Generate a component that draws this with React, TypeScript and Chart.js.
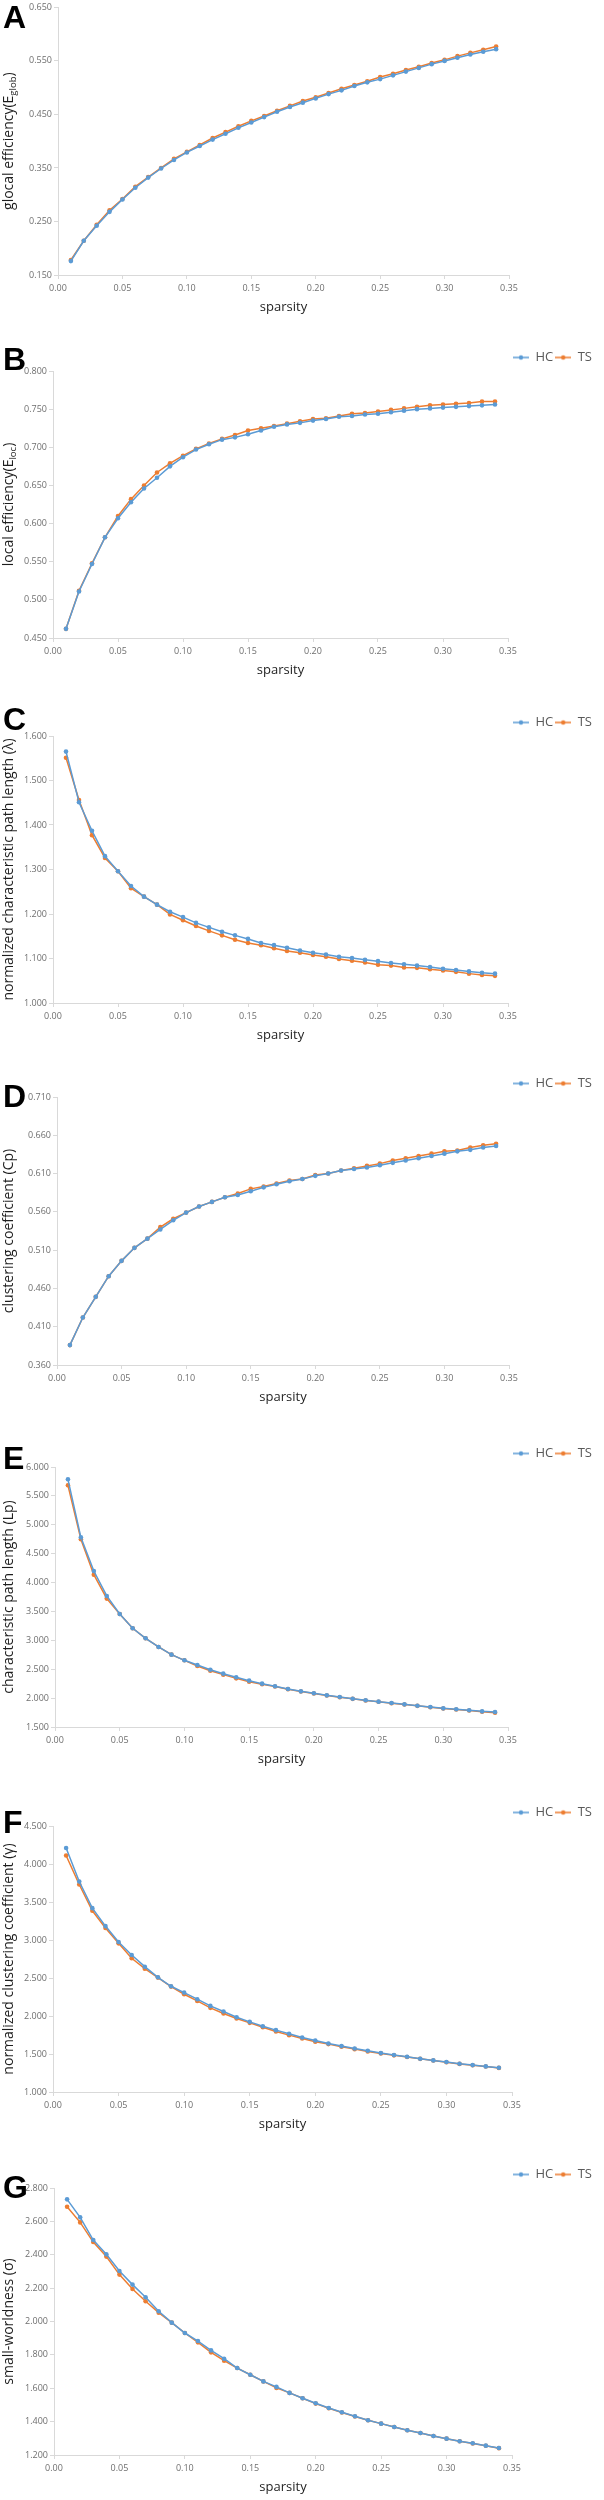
import React, { useEffect, useRef } from "react";
import { Chart, registerables } from "chart.js";

Chart.register(...registerables);

// ---------------- data ----------------
const sparsity = [
  0.01, 0.02, 0.03, 0.04, 0.05, 0.06, 0.07, 0.08, 0.09, 0.1, 0.11, 0.12,
  0.13, 0.14, 0.15, 0.16, 0.17, 0.18, 0.19, 0.2, 0.21, 0.22, 0.23, 0.24,
  0.25, 0.26, 0.27, 0.28, 0.29, 0.3, 0.31, 0.32, 0.33, 0.34,
];

const seriesNames = ["HC", "TS"];
const xTicks = { min: 0, max: 0.35, step: 0.05 };

// A: global efficiency
const globHC = [
  0.176, 0.214, 0.242, 0.268, 0.291, 0.313, 0.332, 0.349, 0.365, 0.379,
  0.391, 0.403, 0.414, 0.425, 0.435, 0.445, 0.455, 0.464, 0.472, 0.48,
  0.488, 0.495, 0.503, 0.51, 0.516, 0.523, 0.53, 0.537, 0.544, 0.55, 0.556,
  0.562, 0.567, 0.572,
];
const globTS = [
  0.178, 0.214, 0.244, 0.271, 0.292, 0.315, 0.333, 0.35, 0.367, 0.38, 0.393,
  0.406, 0.417, 0.428, 0.438, 0.447, 0.457, 0.466, 0.475, 0.482, 0.49,
  0.498, 0.505, 0.512, 0.52, 0.526, 0.533, 0.539, 0.546, 0.552, 0.559,
  0.565, 0.571, 0.577,
];
const globTicks = { min: 0.15, max: 0.65, step: 0.1 };

// B: local efficiency
const locHC = [
  0.462, 0.511, 0.547, 0.582, 0.607, 0.628, 0.646, 0.66, 0.675, 0.687,
  0.697, 0.704, 0.71, 0.713, 0.717, 0.722, 0.727, 0.73, 0.732, 0.735, 0.737,
  0.74, 0.741, 0.743, 0.744, 0.746, 0.748, 0.75, 0.751, 0.752, 0.753, 0.754,
  0.755, 0.756,
];
const locTS = [
  0.462, 0.512, 0.548, 0.582, 0.61, 0.632, 0.65, 0.667, 0.679, 0.689, 0.698,
  0.705, 0.711, 0.716, 0.722, 0.725, 0.728, 0.731, 0.734, 0.737, 0.738,
  0.741, 0.744, 0.745, 0.747, 0.749, 0.751, 0.753, 0.755, 0.756, 0.757,
  0.758, 0.76, 0.76,
];
const locTicks = { min: 0.45, max: 0.8, step: 0.05 };

// C: normalized characteristic path length
const lambdaHC = [
  1.565, 1.451, 1.387, 1.33, 1.296, 1.263, 1.239, 1.221, 1.205, 1.193,
  1.18, 1.17, 1.16, 1.152, 1.144, 1.135, 1.13, 1.124, 1.118, 1.113, 1.109,
  1.104, 1.101, 1.097, 1.094, 1.09, 1.087, 1.084, 1.081, 1.077, 1.074,
  1.071, 1.068, 1.066,
];
const lambdaTS = [
  1.551, 1.456, 1.377, 1.326, 1.296, 1.258, 1.239, 1.221, 1.199, 1.186,
  1.173, 1.162, 1.152, 1.142, 1.135, 1.13, 1.123, 1.117, 1.113, 1.108,
  1.104, 1.099, 1.095, 1.091, 1.086, 1.084, 1.08, 1.079, 1.076, 1.073, 1.07,
  1.066, 1.063, 1.061,
];
const lambdaTicks = { min: 1.0, max: 1.6, step: 0.1 };

// D: clustering coefficient
const cpHC = [
  0.386, 0.422, 0.449, 0.476, 0.496, 0.513, 0.525, 0.537, 0.549, 0.559,
  0.567, 0.573, 0.579, 0.582, 0.587, 0.592, 0.596, 0.6, 0.603, 0.607, 0.61,
  0.614, 0.616, 0.618, 0.621, 0.624, 0.627, 0.63, 0.633, 0.636, 0.639,
  0.641, 0.644, 0.646,
];
const cpTS = [
  0.386, 0.422, 0.449, 0.476, 0.496, 0.513, 0.525, 0.54, 0.551, 0.559,
  0.567, 0.573, 0.579, 0.584, 0.59, 0.593, 0.597, 0.601, 0.603, 0.608, 0.61,
  0.614, 0.617, 0.62, 0.623, 0.627, 0.63, 0.633, 0.636, 0.639, 0.64, 0.644,
  0.647, 0.649,
];
const cpTicks = { min: 0.36, max: 0.71, step: 0.05 };

// E: characteristic path length
const lpHC = [
  5.787, 4.783, 4.2, 3.768, 3.456, 3.208, 3.035, 2.885, 2.752, 2.654, 2.573,
  2.492, 2.423, 2.36, 2.302, 2.25, 2.204, 2.158, 2.117, 2.083, 2.048, 2.019,
  1.99, 1.962, 1.939, 1.915, 1.892, 1.869, 1.846, 1.823, 1.806, 1.789,
  1.771, 1.76,
];
const lpTS = [
  5.683, 4.749, 4.137, 3.722, 3.456, 3.208, 3.035, 2.885, 2.752, 2.654,
  2.556, 2.475, 2.406, 2.342, 2.285, 2.239, 2.2, 2.155, 2.114, 2.08, 2.045,
  2.016, 1.987, 1.959, 1.936, 1.912, 1.889, 1.866, 1.843, 1.82, 1.803,
  1.786, 1.765, 1.748,
];
const lpTicks = { min: 1.5, max: 6.0, step: 0.5 };

// F: normalized clustering coefficient
const gammaHC = [
  4.211, 3.769, 3.419, 3.183, 2.973, 2.803, 2.649, 2.509, 2.391, 2.308,
  2.221, 2.133, 2.059, 1.984, 1.923, 1.866, 1.814, 1.766, 1.718, 1.678,
  1.639, 1.604, 1.573, 1.542, 1.512, 1.486, 1.464, 1.438, 1.416, 1.394,
  1.372, 1.354, 1.337, 1.319,
];
const gammaTS = [
  4.111, 3.73, 3.384, 3.157, 2.956, 2.759, 2.623, 2.505, 2.387, 2.286,
  2.199, 2.107, 2.033, 1.967, 1.91, 1.853, 1.796, 1.748, 1.704, 1.661, 1.63,
  1.595, 1.564, 1.534, 1.508, 1.482, 1.46, 1.436, 1.414, 1.392, 1.37, 1.352,
  1.335, 1.317,
];
const gammaTicks = { min: 1.0, max: 4.5, step: 0.5 };

// G: small-worldness
const sigmaHC = [
  2.732, 2.624, 2.488, 2.403, 2.303, 2.221, 2.145, 2.061, 1.993, 1.931,
  1.883, 1.827, 1.777, 1.721, 1.681, 1.641, 1.608, 1.572, 1.54, 1.51, 1.482,
  1.456, 1.432, 1.408, 1.388, 1.368, 1.348, 1.332, 1.314, 1.298, 1.282,
  1.27, 1.256, 1.242,
];
const sigmaTS = [
  2.688, 2.594, 2.476, 2.389, 2.281, 2.195, 2.121, 2.053, 1.993, 1.931,
  1.875, 1.815, 1.765, 1.721, 1.681, 1.641, 1.602, 1.572, 1.54, 1.508, 1.48,
  1.455, 1.431, 1.408, 1.388, 1.368, 1.348, 1.332, 1.314, 1.298, 1.282,
  1.269, 1.255, 1.241,
];
const sigmaTicks = { min: 1.2, max: 2.8, step: 0.2 };

// ---------------- styles / layout ----------------
const COLORS = ["#5B9BD5", "#ED7D31"];
const FONT = "'Open Sans', 'Noto Sans', 'Liberation Sans', sans-serif";
const AXIS_COLOR = "#d9d9d9";
const TICK_COLOR = "#6f6f6f";
const TITLE_COLOR = "#1e1e1e";
const X_AXIS_H = 45;
const LEGEND_H = 22;
const CANVAS_W = 604;
const RIGHT_PAD = 10;

type Seg = { t: string; sub?: boolean };

type PanelDef = {
  letter: string;
  hc: number[];
  ts: number[];
  yt: { min: number; max: number; step: number };
  title: Seg[];
  legend: boolean;
  plotTop: number;
  plotBottom: number;
  plotLeft: number;
  plotRight: number;
  letterTop: number;
};

const PANELS: PanelDef[] = [
  {
    letter: "A", hc: globHC, ts: globTS, yt: globTicks,
    title: [{ t: "glocal efficiency(E" }, { t: "glob", sub: true }, { t: ")" }],
    legend: false, plotTop: 7, plotBottom: 275, plotLeft: 58, plotRight: 509, letterTop: 5,
  },
  {
    letter: "B", hc: locHC, ts: locTS, yt: locTicks,
    title: [{ t: "local efficiency(E" }, { t: "loc", sub: true }, { t: ")" }],
    legend: true, plotTop: 371, plotBottom: 638, plotLeft: 53, plotRight: 508, letterTop: 347,
  },
  {
    letter: "C", hc: lambdaHC, ts: lambdaTS, yt: lambdaTicks,
    title: [{ t: "normalized characteristic path length (λ)" }],
    legend: true, plotTop: 736, plotBottom: 1003, plotLeft: 53, plotRight: 508, letterTop: 707,
  },
  {
    letter: "D", hc: cpHC, ts: cpTS, yt: cpTicks,
    title: [{ t: "clustering coefficient (Cp)" }],
    legend: true, plotTop: 1097, plotBottom: 1365, plotLeft: 57, plotRight: 509, letterTop: 1084,
  },
  {
    letter: "E", hc: lpHC, ts: lpTS, yt: lpTicks,
    title: [{ t: "characteristic path length (Lp)" }],
    legend: true, plotTop: 1467, plotBottom: 1727, plotLeft: 55, plotRight: 508, letterTop: 1446,
  },
  {
    letter: "F", hc: gammaHC, ts: gammaTS, yt: gammaTicks,
    title: [{ t: "normalized clustering coefficient (γ)" }],
    legend: true, plotTop: 1826, plotBottom: 2092, plotLeft: 53, plotRight: 512, letterTop: 1810,
  },
  {
    letter: "G", hc: sigmaHC, ts: sigmaTS, yt: sigmaTicks,
    title: [{ t: "small-worldness (σ)" }],
    legend: true, plotTop: 2188, plotBottom: 2455, plotLeft: 54, plotRight: 512, letterTop: 2175,
  },
];

function legendIcon(color: string): HTMLCanvasElement {
  const c = document.createElement("canvas");
  c.width = 16;
  c.height = 8;
  const g = c.getContext("2d")!;
  g.strokeStyle = color;
  g.lineWidth = 1.5;
  g.beginPath();
  g.moveTo(0, 4);
  g.lineTo(16, 4);
  g.stroke();
  g.fillStyle = color;
  g.beginPath();
  g.arc(8, 4, 2.2, 0, Math.PI * 2);
  g.fill();
  return c;
}

function yTitlePlugin(segs: Seg[], x: number) {
  return {
    id: "ytitle",
    afterDraw(chart: any) {
      const { ctx, chartArea } = chart;
      const cy = (chartArea.top + chartArea.bottom) / 2;
      const mainFont = `14px ${FONT}`;
      const subFont = `9.5px ${FONT}`;
      ctx.save();
      ctx.translate(x, cy);
      ctx.rotate(-Math.PI / 2);
      let total = 0;
      const widths: number[] = [];
      segs.forEach((s) => {
        ctx.font = s.sub ? subFont : mainFont;
        const w = ctx.measureText(s.t).width;
        widths.push(w);
        total += w;
      });
      let pos = -total / 2;
      ctx.fillStyle = TITLE_COLOR;
      ctx.textBaseline = "middle";
      ctx.textAlign = "left";
      segs.forEach((s, i) => {
        ctx.font = s.sub ? subFont : mainFont;
        ctx.fillText(s.t, pos, s.sub ? 3.5 : 0);
        pos += widths[i];
      });
      ctx.restore();
    },
  };
}

function Panel({ p }: { p: PanelDef }) {
  const ref = useRef<HTMLCanvasElement>(null);
  const topReserve = p.legend ? LEGEND_H : 7;
  const canvasTop = p.plotTop - topReserve;
  const canvasH = p.plotBottom + X_AXIS_H - canvasTop;

  useEffect(() => {
    if (!ref.current) return;
    const icons = COLORS.map(legendIcon);
    const series = [p.hc, p.ts];
    const chart = new Chart(ref.current, {
      type: "line",
      data: {
        datasets: series.map((vals, i) => ({
          label: seriesNames[i],
          data: sparsity.map((s, j) => ({ x: s, y: vals[j] })),
          borderColor: COLORS[i],
          backgroundColor: COLORS[i],
          borderWidth: 1.5,
          pointRadius: 2.3,
          pointBorderWidth: 0,
          pointBackgroundColor: COLORS[i],
          pointStyle: "circle",
          tension: 0,
          fill: false,
        })),
      },
      options: {
        responsive: false,
        animation: false,
        events: [],
        layout: {
          padding: { top: p.legend ? 0 : topReserve, left: 0, right: RIGHT_PAD, bottom: 0 },
        },
        plugins: {
          tooltip: { enabled: false },
          legend: {
            display: p.legend,
            position: "top",
            align: "end",
            maxHeight: LEGEND_H,
            labels: {
              usePointStyle: true,
              pointStyleWidth: 16,
              padding: 2,
              color: "#595959",
              font: { family: FONT, size: 13 },
              generateLabels: (ch: any) =>
                Chart.defaults.plugins.legend.labels
                  .generateLabels(ch)
                  .map((l: any, i: number) => ({ ...l, pointStyle: icons[i] })),
            },
          },
        },
        scales: {
          x: {
            type: "linear",
            min: xTicks.min,
            max: xTicks.max,
            ticks: {
              stepSize: xTicks.step,
              autoSkip: false,
              maxRotation: 0,
              padding: 4,
              color: TICK_COLOR,
              font: { family: FONT, size: 9 },
              callback: (v: any) => Number(v).toFixed(2),
            },
            grid: {
              display: true,
              drawOnChartArea: false,
              drawTicks: true,
              tickLength: 4,
              color: AXIS_COLOR,
            },
            border: { display: true, color: AXIS_COLOR },
            title: {
              display: true,
              text: "sparsity",
              color: TITLE_COLOR,
              font: { family: FONT, size: 13 },
              padding: { top: 0, bottom: 5 },
            },
            afterFit: (s: any) => {
              s.height = X_AXIS_H;
            },
          },
          y: {
            type: "linear",
            min: p.yt.min,
            max: p.yt.max,
            ticks: {
              stepSize: p.yt.step,
              autoSkip: false,
              padding: 2,
              color: TICK_COLOR,
              font: { family: FONT, size: 9 },
              callback: (v: any) => Number(v).toFixed(3),
            },
            grid: {
              display: true,
              drawOnChartArea: false,
              drawTicks: true,
              tickLength: 4,
              color: AXIS_COLOR,
            },
            border: { display: true, color: AXIS_COLOR },
            afterFit: (s: any) => {
              s.width = p.plotLeft;
            },
          },
          yRightSpace: {
            type: "linear",
            position: "right",
            display: true,
            ticks: { display: false },
            grid: { display: false },
            border: { display: false },
            afterFit: (s: any) => {
              s.width = CANVAS_W - RIGHT_PAD - p.plotRight;
            },
          },
        },
      } as any,
      plugins: [yTitlePlugin(p.title, 9.5)],
    });
    return () => chart.destroy();
  }, []);

  return (
    <>
      <canvas
        ref={ref}
        width={CANVAS_W}
        height={canvasH}
        style={{
          position: "absolute",
          left: 0,
          top: canvasTop,
          width: CANVAS_W,
          height: canvasH,
        }}
      />
      <div
        style={{
          position: "absolute",
          left: 3,
          top: p.letterTop - 4,
          fontFamily: "'Liberation Sans', Arial, sans-serif",
          fontWeight: "bold",
          fontSize: 32,
          lineHeight: "32px",
          color: "#000",
        }}
      >
        {p.letter}
      </div>
    </>
  );
}

export default function App() {
  return (
    <div
      style={{
        position: "absolute",
        left: 0,
        top: 0,
        width: CANVAS_W,
        height: 2500,
        background: "#ffffff",
        overflow: "hidden",
      }}
    >
      {PANELS.map((p) => (
        <Panel key={p.letter} p={p} />
      ))}
    </div>
  );
}
